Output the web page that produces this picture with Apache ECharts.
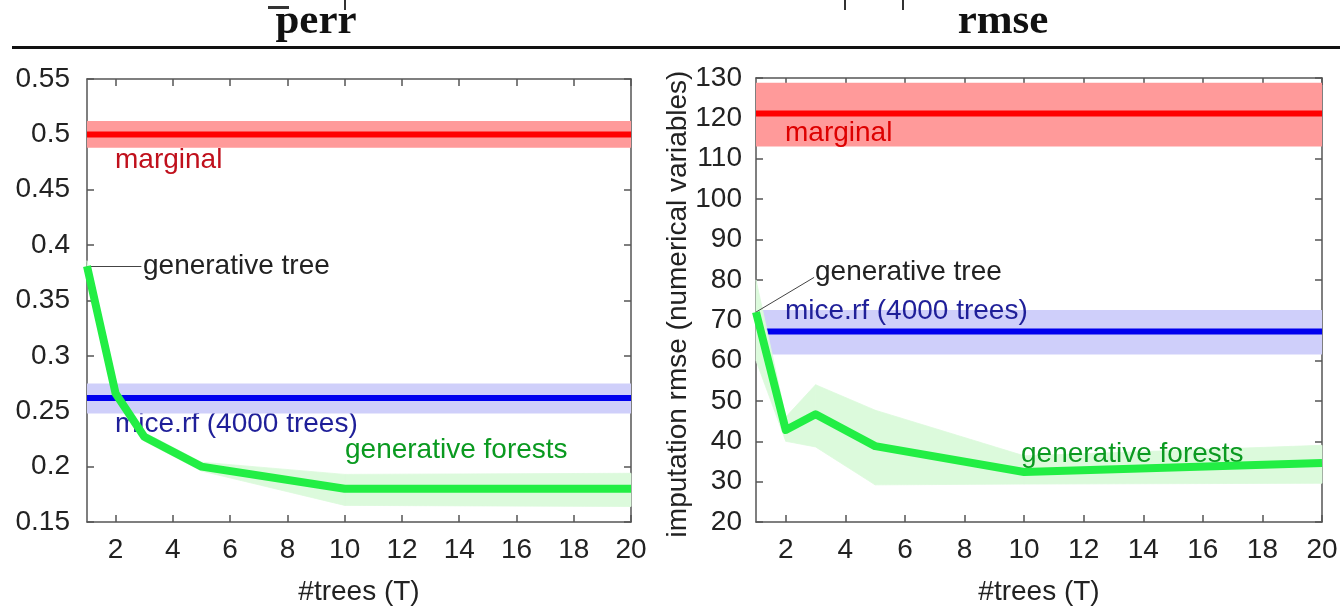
<!DOCTYPE html>
<html><head><meta charset="utf-8">
<script src="https://cdn.jsdelivr.net/npm/echarts@6/dist/echarts.min.js"></script>
<style>html,body{margin:0;padding:0;background:#fff}#c{width:1340px;height:606px}</style>
</head><body><div id="c"></div>
<script>
// ---- data ----
const trees = [1, 2, 3, 5, 10, 20];
const xTicks = [2, 4, 6, 8, 10, 12, 14, 16, 18, 20];

// left panel: perr
const gfPerr   = [0.381, 0.266, 0.227, 0.200, 0.180, 0.180];
const gfPerrLo = [0.377, 0.262, 0.223, 0.196, 0.165, 0.164];
const gfPerrHi = [0.386, 0.270, 0.231, 0.204, 0.193, 0.194];
const marginalPerr = [0.488, 0.500, 0.512];   // lo, mean, hi
const micePerr     = [0.248, 0.262, 0.275];

// right panel: rmse
const gfRmse   = [72.0, 42.8, 46.7, 38.8, 32.4, 34.6];
const gfRmseLo = [60.0, 40.0, 38.6, 29.2, 29.4, 29.6];
const gfRmseHi = [80.0, 46.0, 54.0, 47.7, 36.4, 39.0];
const marginalRmse = [113.0, 121.2, 128.8];
const miceRmse     = [61.5, 67.2, 72.5];

// annotation anchors (data coords of arrow tails)
const treeArrowPerr = [2.9, 0.381];
const treeArrowRmse = [2.95, 80.6];

// ---- styles ----
const FONT = '"Liberation Sans", Arial, sans-serif';
const FS = 28;
const AX = '#555';
const GREEN = '#22ee44', GREEN_BAND = '#dcfadc';
const RED = '#ff0000', RED_BAND = '#ff9a9a';
const BLUE = '#0000ee', BLUE_BAND = '#cfcffa';

function pairs(xs, ys) { return xs.map((x, i) => [x, ys[i]]); }
function triples(xs, lo, hi) { return xs.map((x, i) => [x, lo[i], hi[i]]); }

function mainX(gi) {
  return {
    type: 'value', gridIndex: gi, min: 1, max: 20,
    axisLine: { show: true, lineStyle: { color: AX, width: 1.5 } },
    axisTick: { show: true, inside: true, length: 7, customValues: xTicks, lineStyle: { color: AX, width: 1.5 } },
    axisLabel: { customValues: xTicks, fontFamily: FONT, fontSize: FS, color: '#222', margin: 14 },
    splitLine: { show: false },
    name: '#trees (T)', nameLocation: 'middle', nameGap: 56,
    nameTextStyle: { fontFamily: FONT, fontSize: FS, color: '#222' }
  };
}
function mirrorX(gi) {
  return {
    type: 'value', gridIndex: gi, min: 1, max: 20, position: 'top',
    axisLine: { show: true, lineStyle: { color: AX, width: 1.5 } },
    axisTick: { show: true, inside: true, length: 7, customValues: xTicks, lineStyle: { color: AX, width: 1.5 } },
    axisLabel: { show: false }, splitLine: { show: false }
  };
}
function mainY(gi, min, max, interval, margin) {
  return {
    type: 'value', gridIndex: gi, min, max, interval,
    axisLine: { show: true, lineStyle: { color: AX, width: 1.5 } },
    axisTick: { show: true, inside: true, length: 7, lineStyle: { color: AX, width: 1.5 } },
    axisLabel: { fontFamily: FONT, fontSize: FS, color: '#222', margin },
    splitLine: { show: false }
  };
}
function mirrorY(gi, min, max, interval) {
  return {
    type: 'value', gridIndex: gi, min, max, interval, position: 'right',
    axisLine: { show: true, lineStyle: { color: AX, width: 1.5 } },
    axisTick: { show: true, inside: true, length: 7, lineStyle: { color: AX, width: 1.5 } },
    axisLabel: { show: false }, splitLine: { show: false }
  };
}

function makeBand(xi, yi, rows) {
  return {
    type: 'custom', xAxisIndex: xi, yAxisIndex: yi, z: 3, silent: true,
    data: rows,
    renderItem: function (params, api) {
      const i = params.dataIndex;
      if (i >= rows.length - 1) return null;
      const a = rows[i], b = rows[i + 1];
      const p1 = api.coord([a[0], a[1]]), p2 = api.coord([b[0], b[1]]);
      const p3 = api.coord([b[0], b[2]]), p4 = api.coord([a[0], a[2]]);
      return {
        type: 'polygon',
        shape: { points: [p1, p2, p3, p4] },
        style: { fill: GREEN_BAND, stroke: GREEN_BAND, lineWidth: 0.8 }
      };
    },
    encode: { x: 0, y: [1, 2] }
  };
}

function panelSeries(xi, yi, gf, lo, hi, marg, mice, arrowTail) {
  const xMin = trees[0], xMax = trees[trees.length - 1];
  return [
    {
      type: 'line', xAxisIndex: xi, yAxisIndex: yi, z: 2,
      data: [[xMin, marg[1]], [xMax, marg[1]]],
      symbol: 'none', lineStyle: { color: RED, width: 6 },
      markArea: { silent: true, itemStyle: { color: RED_BAND }, data: [[{ yAxis: marg[0] }, { yAxis: marg[2] }]] }
    },
    {
      type: 'line', xAxisIndex: xi, yAxisIndex: yi, z: 2,
      data: [[xMin, mice[1]], [xMax, mice[1]]],
      symbol: 'none', lineStyle: { color: BLUE, width: 6 },
      markArea: { silent: true, itemStyle: { color: BLUE_BAND }, data: [[{ yAxis: mice[0] }, { yAxis: mice[2] }]] }
    },
    makeBand(xi, yi, triples(trees, lo, hi)),
    {
      type: 'line', xAxisIndex: xi, yAxisIndex: yi, z: 5,
      data: pairs(trees, gf), symbol: 'none',
      lineStyle: { color: GREEN, width: 8, join: 'round' },
      markLine: {
        silent: true, animation: false,
        symbol: ['none', 'arrow'], symbolSize: [0, 9],
        lineStyle: { color: '#444', width: 1, type: 'solid' },
        label: { show: false },
        data: [[{ coord: arrowTail }, { coord: [trees[0], gf[0]] }]]
      }
    }
  ];
}

const txt = (x, y, text, color, extra) => Object.assign({
  type: 'text', x, y, z: 1,
  style: { text, fill: color, font: FS + 'px ' + FONT, textVerticalAlign: 'middle', verticalAlign: 'middle' }
}, extra || {});

const chart = echarts.init(document.getElementById('c'), null, { renderer: 'canvas' });
chart.setOption({
  animation: false,
  backgroundColor: '#fff',
  grid: [
    { left: 87, right: 709, top: 79, bottom: 84, containLabel: false, outerBoundsMode: 'none' },
    { left: 756, right: 18, top: 78, bottom: 84, containLabel: false, outerBoundsMode: 'none' }
  ],
  xAxis: [mainX(0), mirrorX(0), mainX(1), mirrorX(1)],
  yAxis: [
    mainY(0, 0.15, 0.55, 0.05, 17), mirrorY(0, 0.15, 0.55, 0.05),
    mainY(1, 20, 130, 10, 14), mirrorY(1, 20, 130, 10)
  ],
  series: [
    ...panelSeries(0, 0, gfPerr, gfPerrLo, gfPerrHi, marginalPerr, micePerr, treeArrowPerr),
    ...panelSeries(2, 2, gfRmse, gfRmseLo, gfRmseHi, marginalRmse, miceRmse, treeArrowRmse)
  ],
  graphic: [
    { type: 'rect', shape: { x: 12, y: 46, width: 1328, height: 3 }, style: { fill: '#111' }, z: 1 },
    { type: 'text', x: 316, y: 22, z: 1, style: { text: 'perr', fill: '#111', font: 'bold 43px "Liberation Serif", serif', textAlign: 'center', align: 'center', textVerticalAlign: 'middle', verticalAlign: 'middle' } },
    { type: 'rect', shape: { x: 268, y: 6, width: 21, height: 3 }, style: { fill: '#333' }, z: 1 },
    { type: 'rect', shape: { x: 344, y: 0, width: 2, height: 10 }, style: { fill: '#333' }, z: 1 },
    { type: 'text', x: 1003, y: 22, z: 1, style: { text: 'rmse', fill: '#111', font: 'bold 43px "Liberation Serif", serif', textAlign: 'center', align: 'center', textVerticalAlign: 'middle', verticalAlign: 'middle' } },
    { type: 'rect', shape: { x: 844, y: 0, width: 2, height: 10 }, style: { fill: '#333' }, z: 1 },
    { type: 'rect', shape: { x: 902, y: 0, width: 2, height: 10 }, style: { fill: '#333' }, z: 1 },
    txt(115, 160, 'marginal', '#c0101c'),
    txt(143, 266, 'generative tree', '#222'),
    txt(115, 424, 'mice.rf (4000 trees)', '#1f1f99'),
    txt(345, 450, 'generative forests', '#0a9a20'),
    txt(785, 133, 'marginal', '#dd0000', { z: 3 }),
    txt(815, 272, 'generative tree', '#222'),
    txt(785, 311, 'mice.rf (4000 trees)', '#1f1f99', { z: 3 }),
    txt(1021, 454, 'generative forests', '#0a9a20', { z: 4 }),
    { type: 'text', x: 678, y: 304, rotation: Math.PI / 2, z: 1,
      style: { text: 'imputation rmse (numerical variables)', fill: '#222', font: FS + 'px ' + FONT, textAlign: 'center', align: 'center', textVerticalAlign: 'middle', verticalAlign: 'middle' } }
  ]
});
</script></body></html>
